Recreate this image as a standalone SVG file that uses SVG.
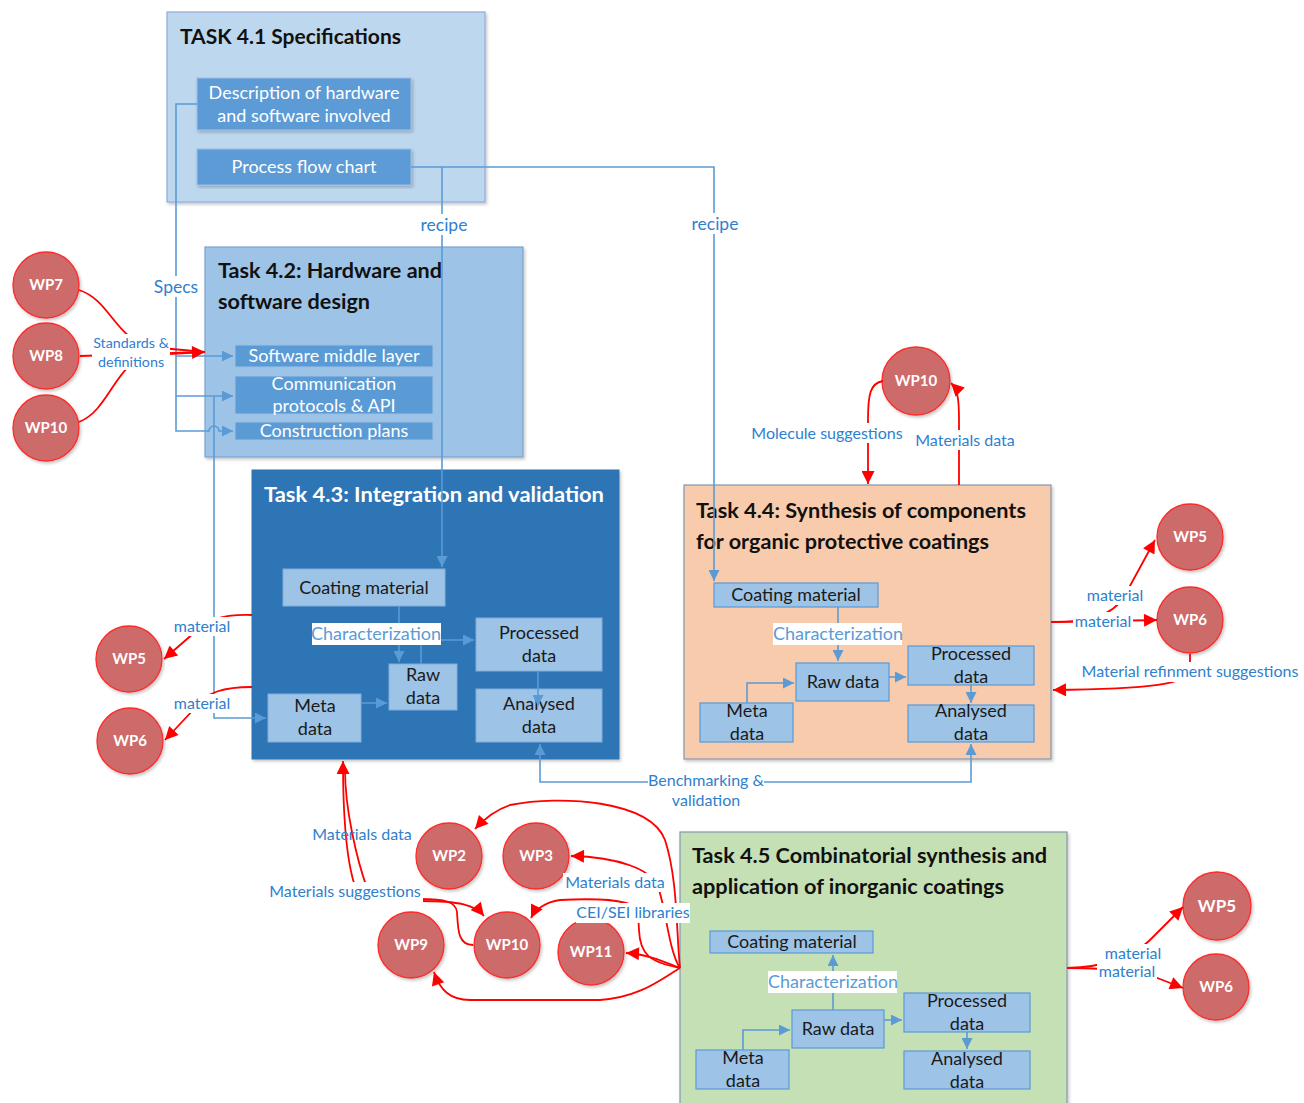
<svg xmlns="http://www.w3.org/2000/svg" width="1304" height="1103" viewBox="0 0 1304 1103">
<defs>
<filter id="sh" x="-10%" y="-10%" width="120%" height="120%"><feDropShadow dx="1.5" dy="2" stdDeviation="1.8" flood-color="#000" flood-opacity="0.22"/></filter>
<marker id="ab" viewBox="0 0 10 10" markerUnits="userSpaceOnUse" markerWidth="11" markerHeight="11" refX="10" refY="5" orient="auto"><path d="M0,0 L10,5 L0,10 z" fill="#5B9BD5"/></marker>
<marker id="ar" viewBox="0 0 10 10" markerUnits="userSpaceOnUse" markerWidth="14" markerHeight="13" refX="10" refY="5" orient="auto"><path d="M0,0 L10,5 L0,10 z" fill="#FF0000"/></marker>
<style>
text{font-family:Lato,"Liberation Sans",sans-serif}
.title{font-weight:bold;font-size:21px;fill:#111}
.wtitle{font-weight:bold;font-size:21px;fill:#fff}
.sub{fill:#5B9BD5;stroke:#9DBFE4;stroke-width:1}
.subt{font-size:18px;fill:#fff;text-anchor:middle}
.inb{fill:#9DC3E6;stroke:#7FAEDD;stroke-width:1}
.inb2{fill:#9DC3E6;stroke:#5B9BD5;stroke-width:1.2}
.int{font-size:18px;fill:#1a1a1a;text-anchor:middle}
.ch{font-size:18px;fill:#5B9BD5;text-anchor:middle}
.lbl{font-size:16px;fill:#2F80CE;text-anchor:middle}
.big{font-size:17.5px}
.sm{font-size:14.3px}
.wp{fill:#CD6A6A;stroke:#FF2A2A;stroke-width:1.3}
.wpt{font-size:15px;font-weight:bold;fill:#fff;text-anchor:middle}
.bl{fill:none;stroke:#5B9BD5;stroke-width:1.6}
.rd{fill:none;stroke:#FF0000;stroke-width:1.8}
.bg{fill:#fff}
</style>
</defs>
<rect width="1304" height="1103" fill="#fff"/>

<!-- Task boxes -->
<g id="task41">
<rect x="167" y="12" width="318" height="190" fill="#BDD7EE" stroke="#8FAADC" stroke-width="1.2" filter="url(#sh)"/>
<text x="180" y="44" class="title" textLength="221" lengthAdjust="spacingAndGlyphs">TASK 4.1 Specifications</text>
<g id="desc"><rect x="197" y="78" width="214" height="52" class="sub" filter="url(#sh)"/>
<text x="304" y="99" class="subt">Description of hardware</text><text x="304" y="122" class="subt">and software involved</text></g>
<g id="pfc"><rect x="197" y="149" width="214" height="36" class="sub" filter="url(#sh)"/>
<text x="304" y="173" class="subt">Process flow chart</text></g>
</g>

<g id="task42">
<rect x="205" y="247" width="318" height="210" fill="#9DC3E6" stroke="#7BA3CF" stroke-width="1.2" filter="url(#sh)"/>
<text x="218" y="278" class="title" textLength="224" lengthAdjust="spacingAndGlyphs">Task 4.2: Hardware and</text>
<text x="218" y="309" class="title" textLength="152" lengthAdjust="spacingAndGlyphs">software design</text>
<g id="sml"><rect x="235" y="345" width="198" height="22" class="sub"/><text x="334" y="362" class="subt">Software middle layer</text></g>
<g id="cpa"><rect x="235" y="376" width="198" height="38" class="sub"/><text x="334" y="390" class="subt">Communication</text><text x="334" y="412" class="subt">protocols &amp; API</text></g>
<g id="cpl"><rect x="235" y="422" width="198" height="18" class="sub"/><text x="334" y="437" class="subt">Construction plans</text></g>
</g>

<g id="task43">
<rect x="252" y="470" width="367" height="289" fill="#2E75B6" stroke="#2E75B6" filter="url(#sh)"/>
<text x="264" y="502" class="wtitle" textLength="340" lengthAdjust="spacingAndGlyphs">Task 4.3: Integration and validation</text>
<g id="t43cm"><rect x="283" y="569" width="162" height="37" class="inb"/><text x="364" y="594" class="int">Coating material</text></g>
<g id="t43pd"><rect x="476" y="618" width="126" height="53" class="inb"/><text x="539" y="639" class="int">Processed</text><text x="539" y="662" class="int">data</text></g>
<g id="t43rd"><rect x="389" y="664" width="68" height="46" class="inb"/><text x="423" y="681" class="int">Raw</text><text x="423" y="704" class="int">data</text></g>
<g id="t43md"><rect x="268" y="694" width="93" height="48" class="inb"/><text x="315" y="712" class="int">Meta</text><text x="315" y="735" class="int">data</text></g>
<g id="t43ad"><rect x="476" y="689" width="126" height="53" class="inb"/><text x="539" y="710" class="int">Analysed</text><text x="539" y="733" class="int">data</text></g>
</g>

<g id="task44">
<rect x="684" y="485" width="367" height="274" fill="#F8CBAD" stroke="#8497B0" stroke-width="1.2" filter="url(#sh)"/>
<text x="696" y="518" class="title" textLength="330" lengthAdjust="spacingAndGlyphs">Task 4.4: Synthesis of components</text>
<text x="696" y="549" class="title" textLength="293" lengthAdjust="spacingAndGlyphs">for organic protective coatings</text>
<g id="t44cm"><rect x="714" y="583" width="164" height="24" class="inb2"/><text x="796" y="601" class="int">Coating material</text></g>
<g id="t44rd"><rect x="796" y="663" width="93" height="38" class="inb2"/><text x="843" y="688" class="int">Raw data</text></g>
<g id="t44pd"><rect x="908" y="646" width="126" height="39" class="inb2"/><text x="971" y="660" class="int">Processed</text><text x="971" y="683" class="int">data</text></g>
<g id="t44md"><rect x="700" y="703" width="93" height="39" class="inb2"/><text x="747" y="717" class="int">Meta</text><text x="747" y="740" class="int">data</text></g>
<g id="t44ad"><rect x="908" y="705" width="126" height="37" class="inb2"/><text x="971" y="717" class="int">Analysed</text><text x="971" y="740" class="int">data</text></g>
</g>

<g id="task45">
<rect x="680" y="832" width="387" height="280" fill="#C5E0B4" stroke="#8497B0" stroke-width="1.2" filter="url(#sh)"/>
<text x="692" y="863" class="title" textLength="355" lengthAdjust="spacingAndGlyphs">Task 4.5 Combinatorial synthesis and</text>
<text x="692" y="894" class="title" textLength="312" lengthAdjust="spacingAndGlyphs">application of inorganic coatings</text>
<g id="t45cm"><rect x="710" y="931" width="163" height="22" class="inb2"/><text x="792" y="948" class="int">Coating material</text></g>
<g id="t45rd"><rect x="792" y="1010" width="92" height="38" class="inb2"/><text x="838" y="1035" class="int">Raw data</text></g>
<g id="t45pd"><rect x="904" y="993" width="126" height="39" class="inb2"/><text x="967" y="1007" class="int">Processed</text><text x="967" y="1030" class="int">data</text></g>
<g id="t45md"><rect x="696" y="1050" width="93" height="39" class="inb2"/><text x="743" y="1064" class="int">Meta</text><text x="743" y="1087" class="int">data</text></g>
<g id="t45ad"><rect x="904" y="1051" width="126" height="38" class="inb2"/><text x="967" y="1065" class="int">Analysed</text><text x="967" y="1088" class="int">data</text></g>
</g>

<!-- WP nodes -->
<g id="wp7"><circle cx="46" cy="285" r="33" class="wp" filter="url(#sh)"/><text x="46" y="290" class="wpt">WP7</text></g>
<g id="wp8"><circle cx="46" cy="356" r="33" class="wp" filter="url(#sh)"/><text x="46" y="361" class="wpt">WP8</text></g>
<g id="wp10a"><circle cx="46" cy="428" r="33" class="wp" filter="url(#sh)"/><text x="46" y="433" class="wpt">WP10</text></g>
<g id="wp5a"><circle cx="129" cy="659" r="33" class="wp" filter="url(#sh)"/><text x="129" y="664" class="wpt">WP5</text></g>
<g id="wp6a"><circle cx="130" cy="741" r="33" class="wp" filter="url(#sh)"/><text x="130" y="746" class="wpt">WP6</text></g>
<g id="wp10b"><circle cx="916" cy="381" r="34" class="wp" filter="url(#sh)"/><text x="916" y="386" class="wpt">WP10</text></g>
<g id="wp5b"><circle cx="1190" cy="537" r="33" class="wp" filter="url(#sh)"/><text x="1190" y="542" class="wpt">WP5</text></g>
<g id="wp6b"><circle cx="1190" cy="620" r="33" class="wp" filter="url(#sh)"/><text x="1190" y="625" class="wpt">WP6</text></g>
<g id="wp2"><circle cx="449" cy="856" r="33" class="wp" filter="url(#sh)"/><text x="449" y="861" class="wpt">WP2</text></g>
<g id="wp3"><circle cx="536" cy="856" r="33" class="wp" filter="url(#sh)"/><text x="536" y="861" class="wpt">WP3</text></g>
<g id="wp9"><circle cx="411" cy="945" r="33" class="wp" filter="url(#sh)"/><text x="411" y="950" class="wpt">WP9</text></g>
<g id="wp10c"><circle cx="507" cy="945" r="33" class="wp" filter="url(#sh)"/><text x="507" y="950" class="wpt">WP10</text></g>
<g id="wp11"><circle cx="591" cy="952" r="33" class="wp" filter="url(#sh)"/><text x="591" y="957" class="wpt">WP11</text></g>
<g id="wp5c"><circle cx="1217" cy="906" r="34" class="wp" filter="url(#sh)"/><text x="1217" y="912" class="wpt" style="font-size:17px">WP5</text></g>
<g id="wp6c"><circle cx="1216" cy="987" r="33" class="wp" filter="url(#sh)"/><text x="1216" y="992" class="wpt">WP6</text></g>

<!-- connectors -->
<g id="connectors">
<!-- blue -->
<path class="bl" d="M197,104 H176 V431 H209 a5,5 0 0 1 10,0 H233" marker-end="url(#ab)"/>
<path class="bl" d="M176,356 H233" marker-end="url(#ab)"/>
<path class="bl" d="M176,396 H233" marker-end="url(#ab)"/>
<path class="bl" d="M214,396 V718 H266" marker-end="url(#ab)"/>
<path class="bl" d="M411,167 H714 V581" marker-end="url(#ab)"/>
<path class="bl" d="M442,167 V567" marker-end="url(#ab)"/>
<path class="bl" d="M399,606 V662" marker-end="url(#ab)"/>
<path class="bl" d="M421,664 V640 H474" marker-end="url(#ab)"/>
<path class="bl" d="M361,703 H387" marker-end="url(#ab)"/>
<path class="bl" d="M538,671 V706" marker-end="url(#ab)"/>
<path class="bl" d="M706,782 H540 V744" marker-end="url(#ab)"/>
<path class="bl" d="M706,782 H971 V744" marker-end="url(#ab)"/>
<path class="bl" d="M838,607 V661" marker-end="url(#ab)"/>
<path class="bl" d="M889,677 H906" marker-end="url(#ab)"/>
<path class="bl" d="M747,703 V683 H794" marker-end="url(#ab)"/>
<path class="bl" d="M971,685 V703" marker-end="url(#ab)"/>
<path class="bl" d="M833,1010 V955" marker-end="url(#ab)"/>
<path class="bl" d="M884,1020 H902" marker-end="url(#ab)"/>
<path class="bl" d="M743,1050 V1030 H790" marker-end="url(#ab)"/>
<path class="bl" d="M967,1032 V1049" marker-end="url(#ab)"/>
<!-- red -->
<path class="rd" d="M79,290 C110,300 115,338 150,347 L205,352"/>
<path class="rd" d="M79,422 C110,410 115,362 150,355 L205,352"/>
<path class="rd" d="M80,356 L205,352" marker-end="url(#ar)"/>
<path class="rd" d="M252,615 C225,614 205,620 195,632 L164,659" marker-end="url(#ar)"/>
<path class="rd" d="M252,687 C225,687 205,692 195,708 L165,740" marker-end="url(#ar)"/>
<path class="rd" d="M883,381 C870,383 868,395 868,420 L868,484" marker-end="url(#ar)"/>
<path class="rd" d="M959,485 L959,420 C959,400 958,390 951,383" marker-end="url(#ar)"/>
<path class="rd" d="M1051,622 C1085,622 1112,618 1125,595 L1155,540" marker-end="url(#ar)"/>
<path class="rd" d="M1051,622 C1080,622 1110,621 1157,620" marker-end="url(#ar)"/>
<path class="rd" d="M1190,654 L1190,670 C1190,684 1150,689 1053,690" marker-end="url(#ar)"/>
<path class="rd" d="M473,945 C458,945 458,930 457,912 C456,902 445,899 420,899 L360,898 C350,880 343,840 343,761" marker-end="url(#ar)"/>
<path class="rd" d="M345,770 C345,810 357,860 367,888 L420,901 C460,901 475,905 484,916" marker-end="url(#ar)"/>
<path class="rd" d="M680,968 C676,930 678,880 665,840 C650,800 560,795 510,805 C495,810 485,818 475,829" marker-end="url(#ar)"/>
<path class="rd" d="M680,968 C668,950 665,900 657,885 C650,870 620,857 571,856" marker-end="url(#ar)"/>
<path class="rd" d="M680,968 C650,962 640,955 639,930 L638,912 C637,900 600,898 560,900 C545,902 535,910 531,918" marker-end="url(#ar)"/>
<path class="rd" d="M680,968 C660,960 645,954 626,953" marker-end="url(#ar)"/>
<path class="rd" d="M680,968 C660,980 640,997 600,1000 L470,1000 C450,1000 440,990 434,972" marker-end="url(#ar)"/>
<path class="rd" d="M1067,968 C1100,967 1130,960 1150,940 L1183,907" marker-end="url(#ar)"/>
<path class="rd" d="M1067,968 C1100,968 1140,970 1160,979 L1183,988" marker-end="url(#ar)"/>
</g>

<!-- labels -->
<g id="labels">
<rect x="419" y="214" width="50" height="21" class="bg"/><text x="444" y="231" class="lbl big">recipe</text>
<rect x="690" y="213" width="50" height="21" class="bg"/><text x="715" y="230" class="lbl big">recipe</text>
<rect x="152" y="276" width="48" height="21" class="bg"/><text x="176" y="293" class="lbl big">Specs</text>
<rect x="92" y="334" width="78" height="36" class="bg"/><text x="131" y="348" class="lbl sm">Standards &amp;</text><text x="131" y="367" class="lbl sm">definitions</text>
<rect x="172" y="617" width="60" height="19" class="bg"/><text x="202" y="632" class="lbl">material</text>
<rect x="172" y="694" width="60" height="19" class="bg"/><text x="202" y="709" class="lbl">material</text>
<rect x="751" y="423" width="152" height="20" class="bg"/><text x="827" y="439" class="lbl">Molecule suggestions</text>
<rect x="913" y="430" width="104" height="20" class="bg"/><text x="965" y="446" class="lbl">Materials data</text>
<rect x="1085" y="586" width="60" height="19" class="bg"/><text x="1115" y="601" class="lbl">material</text>
<rect x="1073" y="612" width="60" height="19" class="bg"/><text x="1103" y="627" class="lbl">material</text>
<rect x="1078" y="662" width="226" height="20" class="bg"/><text x="1190" y="677" class="lbl">Material refinment suggestions</text>
<rect x="648" y="771" width="116" height="37" class="bg"/><text x="706" y="786" class="lbl">Benchmarking &amp;</text><text x="706" y="806" class="lbl">validation</text>
<text x="362" y="840" class="lbl">Materials data</text>
<rect x="267" y="882" width="156" height="20" class="bg"/><text x="345" y="897" class="lbl">Materials suggestions</text>
<rect x="563" y="873" width="104" height="19" class="bg"/><text x="615" y="888" class="lbl">Materials data</text>
<rect x="576" y="903" width="114" height="20" class="bg"/><text x="633" y="918" class="lbl">CEI/SEI libraries</text>
<rect x="1103" y="944" width="60" height="19" class="bg"/><text x="1133" y="959" class="lbl">material</text>
<rect x="1097" y="962" width="60" height="19" class="bg"/><text x="1127" y="977" class="lbl">material</text>
<rect x="312" y="623" width="129" height="22" class="bg"/><text x="376" y="640" class="ch">Characterization</text>
<rect x="773" y="623" width="129" height="22" class="bg"/><text x="838" y="640" class="ch">Characterization</text>
<rect x="768" y="971" width="129" height="22" class="bg"/><text x="833" y="988" class="ch">Characterization</text>
</g>
</svg>
